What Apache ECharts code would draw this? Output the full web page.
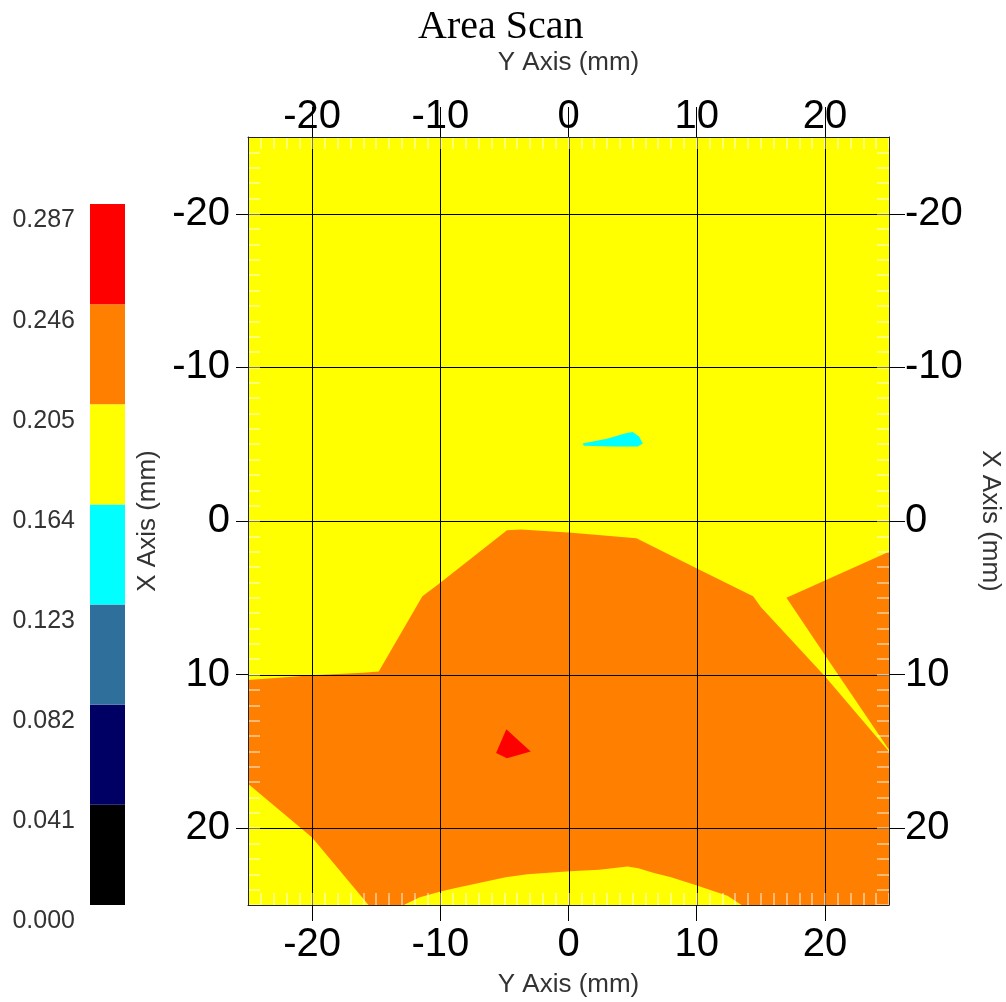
<!DOCTYPE html>
<html><head><meta charset="utf-8">
<script src="https://cdn.jsdelivr.net/npm/echarts@6/dist/echarts.min.js"></script>
<style>html,body{margin:0;padding:0;background:#fff}#c{width:1006px;height:1002px}</style>
</head><body><div id="c"></div>
<script>
// colour scale (contour levels) and band colours
const contourLevels = [0.000, 0.041, 0.082, 0.123, 0.164, 0.205, 0.246, 0.287];
const levelColors = ['#000000', '#000064', '#2F6F9B', '#00FFFF', '#FFFF00', '#FF8000', '#FF0000'];
const axisTickValues = [-20, -10, 0, 10, 20];

// contour regions, points are [Y axis mm (horizontal), X axis mm (vertical)]
const yellowField = [[-25, -25], [25, -25], [25, 25], [-25, 25]];
const orangeMain = [[-25, 10.35], [-20, 10.05], [-16, 9.88], [-14.8, 9.8], [-11.4, 4.9], [-10.2, 4.15],
  [-4.8, 0.6], [-3.7, 0.55], [0, 0.75], [5.3, 1.12], [9.9, 3.05], [14.4, 4.9], [15, 5.6], [20, 10.1],
  [25, 15.0], [25, 25], [13.5, 25], [12.4, 24.4], [11, 24.0], [9.9, 23.7], [8, 23.2], [6.6, 22.9],
  [5.45, 22.6], [4.6, 22.5], [2.4, 22.7], [0.1, 22.8], [-3.2, 23.0], [-4.9, 23.2], [-8.8, 23.9],
  [-9.9, 24.1], [-11.6, 24.5], [-12.85, 25], [-15.6, 25], [-20, 20.6], [-25, 17.1]];
const orangeRight = [[17, 5.0], [25, 2.0], [25, 14.9], [20.3, 9.1]];
const redSpot = [[-4.85, 13.55], [-2.95, 15.0], [-4.8, 15.45], [-5.65, 15.1]];
const cyanSpot = [[1.1, -5.05], [3.0, -5.35], [4.4, -5.7], [5.0, -5.8], [5.5, -5.5], [5.8, -5.05], [5.4, -4.85], [3.5, -4.85], [1.2, -4.9]];
const regionShapes = [yellowField, orangeMain, orangeRight, redSpot, cyanSpot];
const regionLevels = [4, 5, 5, 6, 3];

const FONT = 'Liberation Sans';
const chart = echarts.init(document.getElementById('c'), null, {renderer: 'canvas'});

function mainAxis(pos, extra) {
  return Object.assign({
    type: 'value', gridIndex: 0, position: pos, min: -25, max: 25, z: 10,
    axisLine: {show: true, onZero: false, lineStyle: {color: '#222', width: 1}},
    splitLine: {show: false},
    nameTextStyle: {fontFamily: FONT, fontSize: 26, color: '#333'},
    nameLocation: 'middle'
  }, extra);
}
function minorAxis(pos, extra) {
  return Object.assign({
    type: 'value', gridIndex: 0, position: pos, min: -25, max: 25, interval: 1, z: 9,
    axisLine: {show: false, onZero: false},
    axisTick: {show: true, inside: true, length: 12, lineStyle: {color: 'rgba(255,255,255,0.6)', width: 1.5}},
    axisLabel: {show: false}, splitLine: {show: false}
  }, extra);
}
function majorTick(len) {
  return {show: true, customValues: axisTickValues, length: len, inside: false, lineStyle: {color: '#000', width: 1}};
}
function majorLabel(margin) {
  return {customValues: axisTickValues, fontFamily: FONT, fontSize: 40, color: '#000', margin: margin};
}

const option = {
  backgroundColor: '#fff',
  animation: false,
  title: {text: 'Area Scan', left: 413, top: 2,
    textStyle: {fontFamily: 'Liberation Serif', fontSize: 40, fontWeight: 'normal', color: '#000'}},
  grid: [
    {left: 248, top: 137, width: 641, height: 768, outerBoundsMode: 'none', containLabel: false},
    {left: 90, top: 204, width: 35, height: 701, outerBoundsMode: 'none', containLabel: false}
  ],
  xAxis: [
    mainAxis('bottom', {name: 'Y Axis (mm)', nameGap: 67, axisTick: majorTick(16), axisLabel: majorLabel(20)}),
    mainAxis('top', {name: 'Y Axis (mm)', nameGap: 61, axisTick: majorTick(30), axisLabel: majorLabel(0)}),
    minorAxis('bottom'),
    minorAxis('top'),
    {type: 'value', gridIndex: 1, min: 0, max: 1, show: false}
  ],
  yAxis: [
    mainAxis('left', {inverse: true, name: 'X Axis (mm)', nameGap: 87, nameRotate: 90,
      axisTick: majorTick(12), axisLabel: majorLabel(18)}),
    mainAxis('right', {inverse: true, name: 'X Axis (mm)', nameGap: 88, nameRotate: -90,
      axisTick: majorTick(16), axisLabel: majorLabel(16)}),
    minorAxis('left', {inverse: true}),
    minorAxis('right', {inverse: true}),
    {type: 'value', gridIndex: 1, min: 0, max: 0.287, position: 'left',
      axisLine: {show: false, onZero: false}, axisTick: {show: false}, splitLine: {show: false},
      axisLabel: {customValues: contourLevels, formatter: v => v.toFixed(3), fontFamily: FONT, fontSize: 25,
        color: '#333', margin: 15, verticalAlign: 'top', padding: [4, 0, 0, 0]}}
  ],
  series: [
    {
      type: 'custom', name: 'contours', xAxisIndex: 0, yAxisIndex: 0, z: 1, silent: true,
      data: regionShapes.map((s, i) => [i]),
      renderItem: function (params, api) {
        const idx = api.value(0);
        const pts = regionShapes[idx].map(p => api.coord(p));
        return {type: 'polygon', shape: {points: pts}, style: {fill: levelColors[regionLevels[idx]], stroke: null}};
      }
    },
    {
      type: 'custom', name: 'grid lines', xAxisIndex: 0, yAxisIndex: 0, z: 2, silent: true,
      data: axisTickValues.map(v => [v]),
      renderItem: function (params, api) {
        const v = api.value(0);
        const a = api.coord([v, -25]), b = api.coord([v, 25]);
        const c = api.coord([-25, v]), d = api.coord([25, v]);
        return {type: 'group', children: [
          {type: 'line', shape: {x1: Math.round(a[0]) + 0.5, y1: a[1], x2: Math.round(b[0]) + 0.5, y2: b[1]}, style: {stroke: '#000', lineWidth: 1}},
          {type: 'line', shape: {x1: c[0], y1: Math.round(c[1]) + 0.5, x2: d[0], y2: Math.round(d[1]) + 0.5}, style: {stroke: '#000', lineWidth: 1}}
        ]};
      }
    },
    {
      type: 'custom', name: 'colour scale', xAxisIndex: 4, yAxisIndex: 4, silent: true,
      data: levelColors.map((c, i) => [i]),
      renderItem: function (params, api) {
        const i = api.value(0);
        const p0 = api.coord([0, contourLevels[i + 1]]);
        const p1 = api.coord([1, contourLevels[i]]);
        return {type: 'rect', shape: {x: p0[0], y: p0[1], width: p1[0] - p0[0], height: p1[1] - p0[1]},
          style: {fill: levelColors[i], stroke: null}};
      }
    }
  ]
};
chart.setOption(option);
</script></body></html>
